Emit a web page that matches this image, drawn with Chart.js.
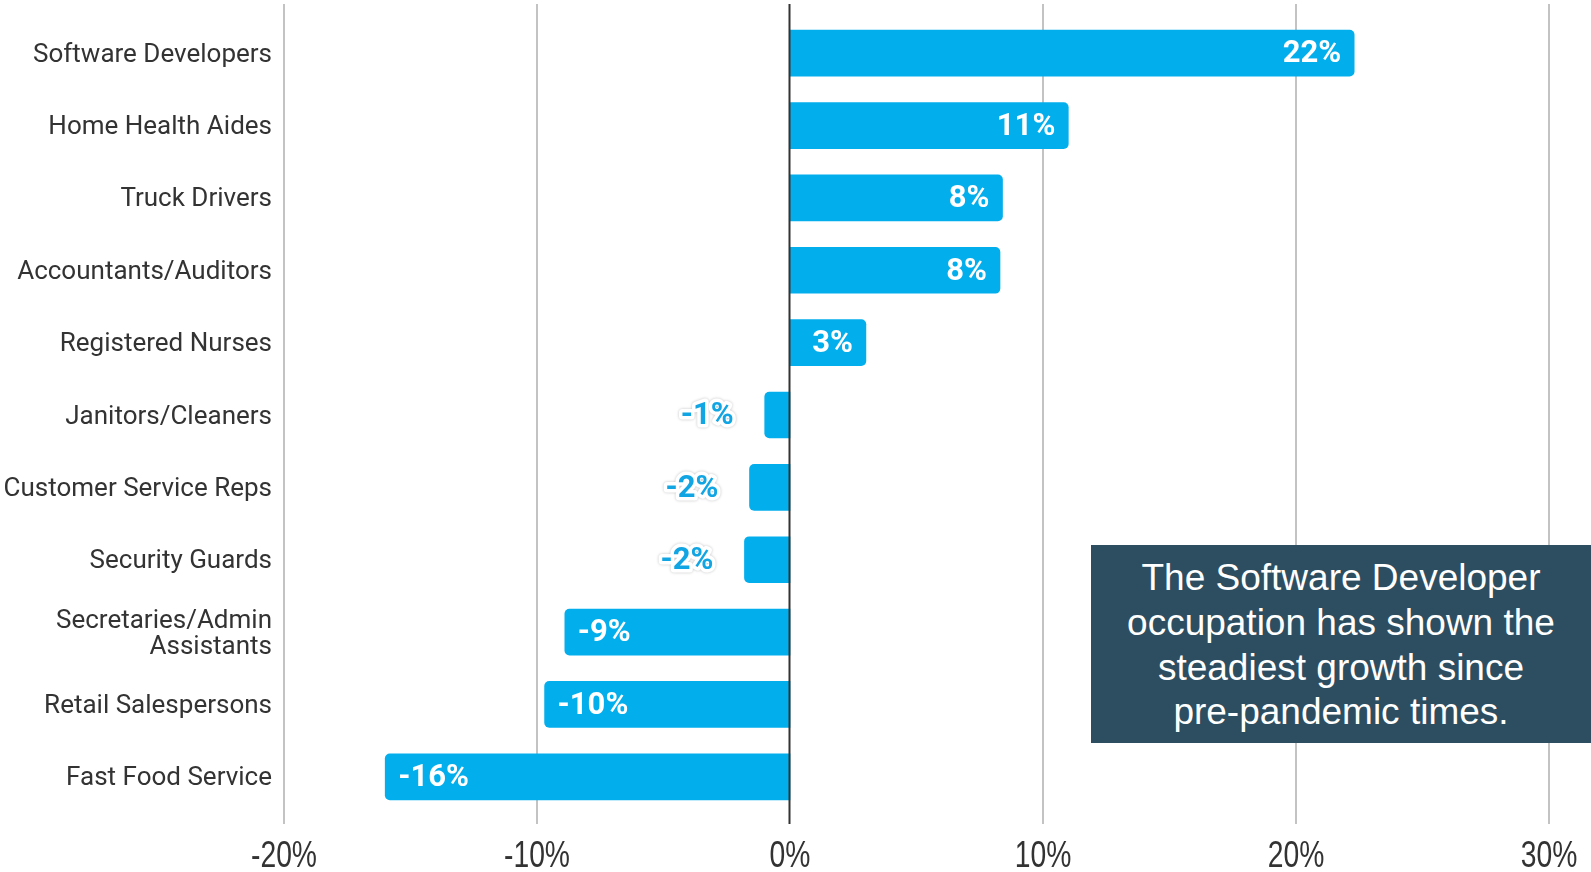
<!DOCTYPE html>
<html>
<head>
<meta charset="utf-8">
<title>Occupation growth</title>
<script src="https://cdn.jsdelivr.net/npm/chart.js@4.4.1/dist/chart.umd.min.js"></script>
<style>
  body { margin: 0; background: #fff; }
  #wrap { position: relative; width: 1591px; height: 872px; }
  #note {
    position: absolute; left: 1091px; top: 545px; width: 500px; height: 198px;
    box-sizing: border-box; padding-top: 3px;
    background: #2d4e61; color: #fff;
    font-family: "Liberation Sans", Arial, sans-serif; font-size: 37px; line-height: 44.6px;
    text-align: center; display: flex; align-items: center; justify-content: center;
  }
</style>
</head>
<body>
<div id="wrap">
  <canvas id="growthChart" width="1591" height="872"></canvas>
  <div id="note">The Software Developer<br>occupation has shown the<br>steadiest growth since<br>pre-pandemic times.</div>
</div>
<script>
// -------------------------
// Data
// -------------------------
const occupations = [
  "Software Developers",
  "Home Health Aides",
  "Truck Drivers",
  "Accountants/Auditors",
  "Registered Nurses",
  "Janitors/Cleaners",
  "Customer Service Reps",
  "Security Guards",
  ["Secretaries/Admin", "Assistants"],
  "Retail Salespersons",
  "Fast Food Service"
];
const growth = [22.3, 11.0, 8.4, 8.3, 3.0, -1.0, -1.6, -1.8, -8.9, -9.7, -16.0];
const axisMin = -20;
const axisMax = 30;
const axisStep = 10;

const barBlue = "#03aeed";
const labelBlue = "#12a5e4";

// -------------------------
// Vertical grid + zero line
// -------------------------
const gridLines = {
  id: "gridLines",
  beforeDatasetsDraw(chart) {
    const ctx = chart.ctx;
    const xScale = chart.scales.x;
    ctx.save();
    ctx.lineWidth = 2;
    ctx.strokeStyle = "#c3c3c3";
    xScale.ticks.forEach(t => {
      if (t.value === 0) return;
      const x = xScale.getPixelForValue(t.value);
      ctx.beginPath();
      ctx.moveTo(x, 4);
      ctx.lineTo(x, 824);
      ctx.stroke();
    });
    ctx.restore();
  },
  afterDatasetsDraw(chart) {
    const ctx = chart.ctx;
    const x = chart.scales.x.getPixelForValue(0);
    ctx.save();
    ctx.lineWidth = 2;
    ctx.strokeStyle = "#333";
    ctx.beginPath();
    ctx.moveTo(x - 0.5, 4);
    ctx.lineTo(x - 0.5, 824);
    ctx.stroke();
    ctx.restore();
  }
};

// -------------------------
// Narrow x tick labels (squeezed Arial look)
// -------------------------
const narrowTicks = {
  id: "narrowTicks",
  afterDraw(chart) {
    const ctx = chart.ctx;
    const xScale = chart.scales.x;
    ctx.save();
    ctx.font = "36px 'Liberation Sans', Arial, sans-serif";
    ctx.fillStyle = "#333";
    ctx.textAlign = "center";
    ctx.textBaseline = "middle";
    xScale.ticks.forEach(t => {
      const x = xScale.getPixelForValue(t.value);
      ctx.save();
      ctx.translate(x, 857);
      ctx.scale(0.785, 1);
      ctx.fillText(t.value + "%", 0, 0);
      ctx.restore();
    });
    ctx.restore();
  }
};

// -------------------------
// Value labels on bars
// -------------------------
const valueLabels = {
  id: "valueLabels",
  afterDatasetsDraw(chart) {
    const ctx = chart.ctx;
    const meta = chart.getDatasetMeta(0);
    ctx.save();
    ctx.font = "bold 31px Roboto";
    ctx.textBaseline = "middle";
    meta.data.forEach((bar, i) => {
      const v = growth[i];
      const text = Math.round(v) + "%";
      const y = bar.y + 1.5;
      if (Math.abs(v) >= 3) {
        // inside the bar, at its far end
        ctx.fillStyle = "#fff";
        if (v >= 0) {
          ctx.textAlign = "right";
          ctx.fillText(text, bar.x - 13, y);
        } else {
          ctx.textAlign = "left";
          ctx.fillText(text, bar.x + 13, y);
        }
      } else {
        // short bars: label sits outside with a white halo
        const tx = v >= 0 ? bar.x + 31 : bar.x - 31;
        ctx.textAlign = v >= 0 ? "left" : "right";
        ctx.lineJoin = "round";
        ctx.lineWidth = 7;
        ctx.strokeStyle = "#fff";
        ctx.shadowColor = "rgba(0,0,0,0.25)";
        ctx.shadowBlur = 3;
        ctx.strokeText(text, tx, y);
        ctx.shadowColor = "transparent";
        ctx.fillStyle = labelBlue;
        ctx.fillText(text, tx, y);
      }
    });
    ctx.restore();
  }
};

// -------------------------
// Chart
// -------------------------
const ctx = document.getElementById("growthChart").getContext("2d");
new Chart(ctx, {
  type: "bar",
  data: {
    labels: occupations,
    datasets: [{
      data: growth,
      backgroundColor: barBlue,
      borderRadius: 5,
      borderSkipped: "start",
      barThickness: 46
    }]
  },
  options: {
    indexAxis: "y",
    responsive: false,
    animation: false,
    layout: { padding: { top: 17, right: 42, left: 0, bottom: 0 } },
    plugins: {
      legend: { display: false },
      tooltip: { enabled: false }
    },
    scales: {
      x: {
        min: axisMin,
        max: axisMax,
        grid: { display: false, drawTicks: false },
        border: { display: false },
        ticks: { stepSize: axisStep, display: false },
        afterFit: scale => {
          scale.height = 59;
          scale.paddingLeft = 0;
          scale.paddingRight = 0;
        }
      },
      y: {
        grid: { display: false, drawTicks: false },
        border: { display: false },
        ticks: {
          padding: 12,
          labelOffset: 2,
          color: "#333",
          font: { family: "Roboto", size: 26, lineHeight: 1.0 }
        },
        afterFit: scale => {
          scale.width = 284;
          scale.paddingTop = 0;
          scale.paddingBottom = 0;
        }
      }
    }
  },
  plugins: [gridLines, valueLabels, narrowTicks]
});
</script>
</body>
</html>
